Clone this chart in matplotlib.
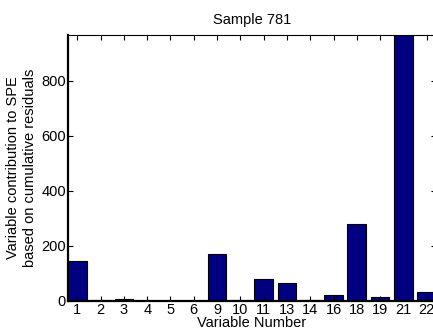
import matplotlib
matplotlib.use("Agg")
import matplotlib.pyplot as plt
import numpy as np

plt.rcParams['font.family'] = ['Liberation Sans', 'DejaVu Sans']

variables = ['1', '2', '3', '4', '5', '6', '9', '10', '11', '13', '14', '16', '18', '19', '21', '22']
contrib = [145, 5, 8, 1, 1, 1, 170, 5, 81, 67, 2, 23, 280, 16, 966, 32]

W, H = 433, 333
fig = plt.figure(figsize=(W / 100, H / 100), dpi=100)
# axes run a little past the right edge of the image, as in the reference
ax = fig.add_axes([68 / W, (H - 301) / H, (436 - 68) / W, (301 - 35) / H])

pos = np.arange(1, len(variables) + 1)
ax.bar(pos, contrib, width=0.8, color='#000080', edgecolor='black', linewidth=0.8,
       zorder=1)

ax.set_xlim(0.6, len(variables) + 0.4)
ax.set_ylim(0, max(contrib))
ax.set_xticks(pos)
ax.set_xticklabels(variables)
ax.set_yticks([0, 200, 400, 600, 800])

ax.tick_params(direction='in', top=True, right=True, length=3.5, width=0.8,
               labelsize=10.5, pad=1.5)
for s in ['left', 'bottom']:
    ax.spines[s].set_linewidth(1.6)
for s in ['top', 'right']:
    ax.spines[s].set_linewidth(0.8)

ax.set_title('Sample 781', fontsize=10.5, pad=8)
ax.set_xlabel('Variable Number', fontsize=10.5, labelpad=-1)
ax.set_ylabel('Variable contribution to SPE\nbased on cumulative residuals',
              fontsize=10.5, labelpad=3, linespacing=1.25)

fig.savefig('out.png', dpi=100)
